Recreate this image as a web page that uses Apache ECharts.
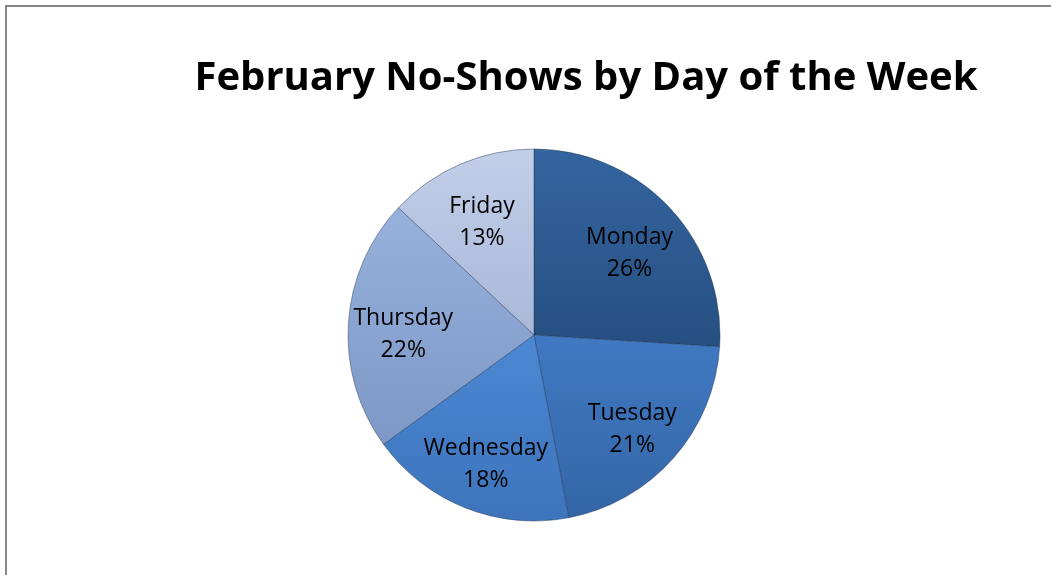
<!DOCTYPE html>
<html>
<head>
<meta charset="utf-8">
<script src="https://cdn.jsdelivr.net/npm/echarts@6/dist/echarts.min.js"></script>
<style>
  html, body { margin: 0; padding: 0; background: #fff; }
  #main { width: 1051px; height: 575px; }
</style>
</head>
<body>
<div id="main"></div>
<script>
// data
var days = ["Monday", "Tuesday", "Wednesday", "Thursday", "Friday"]
var shares = [26, 21, 18, 22, 13]
// slice colours: top / bottom of gradient
var topColors = ["#3465a0", "#4079c2", "#4c88d4", "#97b1dc", "#c3cfe9"]
var bottomColors = ["#264f80", "#3466a6", "#3d74bb", "#7d98c6", "#a9b8d8"]

var chartDom = document.getElementById("main")
var myChart = echarts.init(chartDom)

var sliceData = days.map(function (d, i) {
  return {
    name: d,
    value: shares[i],
    itemStyle: {
      color: new echarts.graphic.LinearGradient(0, 0, 0, 1, [
        { offset: 0, color: topColors[i] },
        { offset: 1, color: bottomColors[i] }
      ])
    }
  }
})

var labelData = days.map(function (d, i) {
  return { name: d, value: shares[i] }
})

var option = {
  animation: false,
  title: {
    text: "February No-Shows by Day of the Week",
    left: 581,
    textAlign: "center",
    top: 54,
    textStyle: {
      fontFamily: "Open Sans",
      fontWeight: "bold",
      fontSize: 40,
      color: "#000"
    }
  },
  graphic: [
    {
      type: "rect",
      shape: { x: 6, y: 6, width: 1100, height: 700 },
      style: { fill: "none", stroke: "#878787", lineWidth: 2 },
      silent: true
    }
  ],
  series: [
    {
      // the coloured pie
      type: "pie",
      center: [534, 335],
      radius: [0, 186],
      startAngle: 90,
      clockwise: true,
      silent: true,
      itemStyle: {
        borderColor: "rgba(30,50,80,0.45)",
        borderWidth: 1
      },
      label: { show: false },
      labelLine: { show: false },
      data: sliceData
    },
    {
      // transparent ring only used to place the labels further out
      type: "pie",
      center: [534, 335],
      radius: [70, 186],
      startAngle: 90,
      clockwise: true,
      silent: true,
      itemStyle: { color: "rgba(0,0,0,0)" },
      label: {
        show: true,
        position: "inside",
        formatter: function (p) {
          return p.name + "\n" + p.value + "%"
        },
        fontFamily: "Open Sans",
        fontSize: 23,
        lineHeight: 32,
        offset: [0, 8],
        color: "#000"
      },
      labelLine: { show: false },
      data: labelData
    }
  ]
}

option && myChart.setOption(option)
</script>
</body>
</html>
